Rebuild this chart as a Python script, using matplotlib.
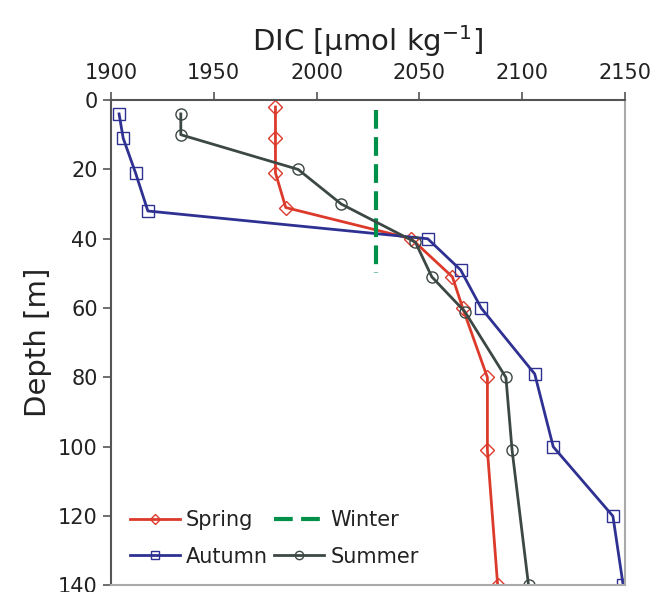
import numpy as np
import matplotlib
matplotlib.use("Agg")
import matplotlib.pyplot as plt

# DIC profiles
spring_depth = [2, 11, 21, 31, 40, 51, 60, 80, 101, 140]
spring_dic = [1980, 1980, 1980, 1985, 2046, 2066, 2071, 2083, 2083, 2088]

autumn_depth = [4, 11, 21, 32, 40, 49, 60, 79, 100, 120, 140]
autumn_dic = [1904, 1906, 1912, 1918, 2054, 2070, 2080, 2106, 2115, 2144, 2149]

summer_depth = [4, 10, 20, 30, 41, 51, 61, 80, 101, 140]
summer_dic = [1934, 1934, 1991, 2012, 2048, 2056, 2072, 2092, 2095, 2103]

winter_depth = [3, 50]
winter_dic = [2029, 2029]

xticks = [1900, 1950, 2000, 2050, 2100, 2150]
yticks = [0, 20, 40, 60, 80, 100, 120, 140]

red = '#dc3a2a'
blue = '#2e3192'
grey = '#3c4844'
green = '#00904a'

fig = plt.figure(figsize=(6.52, 5.92), dpi=100)
ax = fig.add_axes([0.170, 0.011, 0.789, 0.820])

l1, = ax.plot(spring_dic, spring_depth, color=red, lw=2, marker='D', ms=7,
              mfc='none', mec=red, mew=1, label='Spring')
l2, = ax.plot(autumn_dic, autumn_depth, color=blue, lw=2, marker='s', ms=8,
              mfc='none', mec=blue, mew=1, label='Autumn')
l3, = ax.plot(winter_dic, winter_depth, color=green, lw=3, ls=(0, (4.5, 2)),
              label='Winter')
l4, = ax.plot(summer_dic, summer_depth, color=grey, lw=2, marker='o', ms=8,
              mfc='none', mec=grey, mew=1, label='Summer')

ax.set_xlim(1900, 2150)
ax.set_ylim(140, 0)
ax.xaxis.tick_top()
ax.xaxis.set_label_position('top')
ax.set_xticks(xticks)
ax.set_yticks(yticks)
ax.tick_params(labelsize=15, length=6, width=1.2, color='#555555', labelcolor='#222222')
ax.tick_params(axis='x', pad=6)

for s in ['left', 'top']:
    ax.spines[s].set_color('#555555')
    ax.spines[s].set_linewidth(1.5)
for s in ['right', 'bottom']:
    ax.spines[s].set_color('#aaaaaa')
    ax.spines[s].set_linewidth(1.5)

ax.set_xlabel('DIC [$\\mathregular{\\mu}$mol kg$^{\\mathregular{-1}}$]', fontsize=21,
              color='#222222', labelpad=9)
ax.set_ylabel('Depth [m]', fontsize=21, color='#222222', labelpad=4)

leg = ax.legend(handles=[l1, l2, l3, l4], ncol=2, loc='lower left', frameon=False,
                fontsize=15, handlelength=2.4, columnspacing=0.3, handletextpad=0.3,
                labelspacing=0.8, markerscale=0.75, bbox_to_anchor=(0.0, 0.0))
for t in leg.get_texts():
    t.set_color('#222222')

fig.savefig('out.png', dpi=100)
